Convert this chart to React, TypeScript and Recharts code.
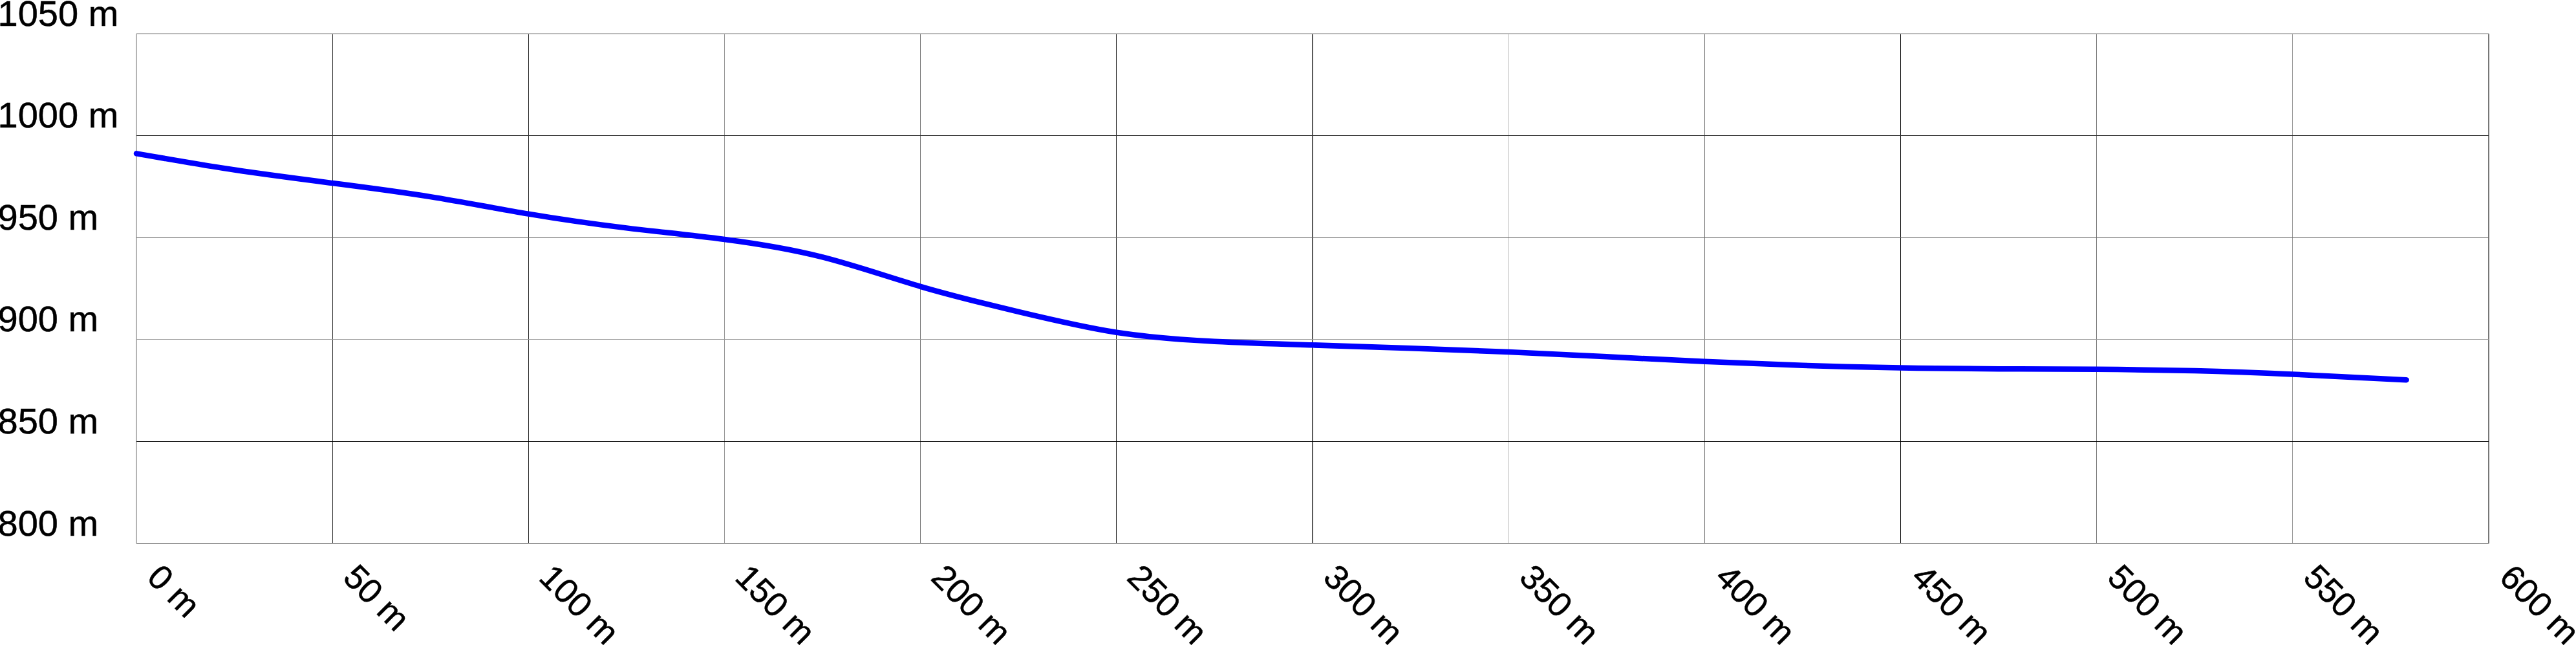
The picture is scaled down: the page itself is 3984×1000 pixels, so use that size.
import React from 'react';
import { LineChart, Line, XAxis, YAxis, ReferenceLine } from 'recharts';

// distance along the route (m)
const distances = [0, 25, 50, 75, 100, 125, 150, 175, 200, 225, 250, 275, 300, 325, 350, 375, 400, 425, 450, 475, 500, 525, 550, 579];
// elevation (m)
const elevations = [991.2, 983.2, 976.7, 970.0, 961.6, 954.7, 949.1, 940.4, 926.0, 913.6, 903.5, 899.1, 897.3, 895.7, 893.9, 891.6, 889.2, 887.3, 886.1, 885.6, 885.4, 884.7, 883.0, 880.2];

const xTicks = [0, 50, 100, 150, 200, 250, 300, 350, 400, 450, 500, 550, 600];
const yTicks = [800, 850, 900, 950, 1000, 1050];

// grid line shades, one per tick
const xGridColors = ['#b4b4b4', '#333333', '#2a2a2a', '#999999', '#777777', '#1e1e1e', '#5a5a5a', '#bbbbbb', '#6e6e6e', '#000000', '#777777', '#999999', '#777777'];
const yGridColors = ['#999999', '#000000', '#999999', '#6a6a6a', '#333333', '#bbbbbb'];

const data = distances.map((d, i) => ({ d, e: elevations[i] }));

const FONT = '"Liberation Sans", Arial, sans-serif';

const XTick = (props: any) => {
  const { x, y, payload } = props;
  const ox = x + 14;
  const oy = y + 55;
  return (
    <text x={ox} y={oy} transform={`rotate(45 ${ox} ${oy})`} fontSize={53} fontFamily={FONT} fill="#000" stroke="#000" strokeWidth={0.5} textAnchor="start">
      {`${payload.value} m`}
    </text>
  );
};

const YTick = (props: any) => {
  const { x, y, payload } = props;
  return (
    <text x={x - 214.5} y={y - 12.5} fontSize={56} fontFamily={FONT} fill="#000" stroke="#000" strokeWidth={0.5} textAnchor="start">
      {`${payload.value} m`}
    </text>
  );
};

export default function App() {
  return (
    <div style={{ position: 'absolute', left: 0, top: 0, width: 3984, height: 1000, background: '#fff' }}>
      <LineChart width={3984} height={1000} data={data} margin={{ top: 52, right: 135, bottom: 0, left: 0 }}>
        <XAxis
          dataKey="d"
          type="number"
          domain={[0, 600]}
          ticks={xTicks}
          height={160}
          tickSize={0}
          tickMargin={0}
          axisLine={false}
          tickLine={false}
          tick={XTick}
          interval={0}
        />
        <YAxis
          type="number"
          domain={[800, 1050]}
          ticks={yTicks}
          width={211}
          tickSize={0}
          tickMargin={0}
          axisLine={false}
          tickLine={false}
          tick={YTick}
          interval={0}
        />
        {xTicks.map((v, i) => (
          <ReferenceLine key={`x${v}`} x={v} stroke={xGridColors[i]} strokeWidth={1.3} shapeRendering="crispEdges" zIndex={-50} />
        ))}
        {yTicks.map((v, i) => (
          <ReferenceLine key={`y${v}`} y={v} stroke={yGridColors[i]} strokeWidth={1.3} shapeRendering="crispEdges" zIndex={-50} />
        ))}
        <Line
          type="natural"
          dataKey="e"
          stroke="#0000ff"
          strokeWidth={8.5}
          strokeLinecap="round"
          strokeLinejoin="round"
          dot={false}
          activeDot={false}
          isAnimationActive={false}
        />
      </LineChart>
    </div>
  );
}
